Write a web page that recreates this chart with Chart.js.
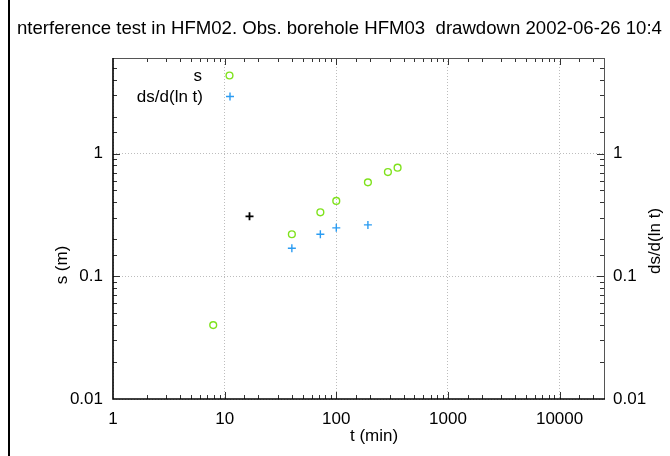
<!DOCTYPE html>
<html>
<head>
<meta charset="utf-8">
<script src="https://cdn.jsdelivr.net/npm/chart.js@4/dist/chart.umd.min.js"></script>
<style>
  html, body { margin: 0; padding: 0; background: #fff; }
  #wrap { position: relative; width: 670px; height: 456px; }
</style>
</head>
<body>
<div id="wrap"><canvas id="chart"></canvas></div>
<script>
// drawdown s (m) vs time t (min)
const sTime = [7.9, 40, 72, 100, 192, 290, 354];
const sValues = [0.040, 0.220, 0.332, 0.411, 0.582, 0.706, 0.766];

// derivative ds/d(ln t)
const derivTime = [40, 72, 100, 192];
const derivValues = [0.169, 0.220, 0.248, 0.262];

// stray derivative point drawn in black
const extraTime = [16.7];
const extraValues = [0.308];

const xDecades = [1, 10, 100, 1000, 10000];
const yDecades = [0.01, 0.1, 1];

const titleText = "nterference test in HFM02. Obs. borehole HFM03  drawdown 2002-06-26 10:4";
const FONT = '"Liberation Sans", Arial, sans-serif';
const GREEN = "#7fe21c";
const BLUE = "#2b9cf2";

const isDecade = (v) => Math.abs(Math.log10(v) - Math.round(Math.log10(v))) < 1e-9;
const toPoints = (xs, ys) => xs.map((x, i) => ({ x, y: ys[i] }));

const decorations = {
  id: "decorations",
  afterDraw(chart) {
    const { ctx, chartArea: a } = chart;
    const sx = chart.scales.x, sy = chart.scales.y;
    ctx.save();

    // inward tick marks
    ctx.strokeStyle = "#333";
    ctx.lineWidth = 1;
    ctx.beginPath();
    sx.ticks.forEach((t) => {
      if (t.value <= sx.min || t.value >= sx.max) return;
      const px = Math.round(sx.getPixelForValue(t.value)) + 0.5;
      const len = isDecade(t.value) ? 7 : 4;
      ctx.moveTo(px, a.bottom); ctx.lineTo(px, a.bottom - len);
      ctx.moveTo(px, a.top); ctx.lineTo(px, a.top + len);
    });
    sy.ticks.forEach((t) => {
      if (t.value <= sy.min || t.value >= sy.max) return;
      const py = Math.round(sy.getPixelForValue(t.value)) + 0.5;
      const len = isDecade(t.value) ? 7 : 4;
      ctx.moveTo(a.left, py); ctx.lineTo(a.left + len, py);
      ctx.moveTo(a.right, py); ctx.lineTo(a.right - len, py);
    });
    ctx.stroke();

    // frame
    ctx.strokeStyle = "#555";
    ctx.lineWidth = 1;
    ctx.beginPath();
    ctx.moveTo(a.left, a.top + 0.5); ctx.lineTo(a.right, a.top + 0.5);
    ctx.moveTo(a.right + 0.5, a.top); ctx.lineTo(a.right + 0.5, a.bottom);
    ctx.stroke();
    ctx.strokeStyle = "#000";
    ctx.lineWidth = 1.6;
    ctx.beginPath();
    ctx.moveTo(a.left, a.top); ctx.lineTo(a.left, a.bottom); ctx.lineTo(a.right + 1, a.bottom);
    ctx.stroke();

    // page edge line
    ctx.strokeStyle = "#000";
    ctx.lineWidth = 2;
    ctx.beginPath();
    ctx.moveTo(9, 0); ctx.lineTo(9, chart.height);
    ctx.stroke();

    // title
    ctx.fillStyle = "#000";
    ctx.font = "18.6px " + FONT;
    ctx.textBaseline = "middle";
    ctx.textAlign = "left";
    ctx.fillText(titleText, 17, 29);

    // axis titles
    ctx.font = "17px " + FONT;
    ctx.textAlign = "left";
    ctx.fillText("t (min)", 350, 436);
    ctx.textAlign = "center";
    ctx.save();
    ctx.translate(62, 265);
    ctx.rotate(-Math.PI / 2);
    ctx.fillText("s (m)", 0, 0);
    ctx.restore();
    ctx.save();
    ctx.translate(655, 241);
    ctx.rotate(-Math.PI / 2);
    ctx.fillText("ds/d(ln t)", 0, 0);
    ctx.restore();

    // legend
    ctx.textAlign = "right";
    ctx.fillText("s", 202, 76);
    ctx.fillText("ds/d(ln t)", 203, 97);
    ctx.strokeStyle = GREEN;
    ctx.lineWidth = 1.4;
    ctx.beginPath();
    ctx.arc(229.5, 75.5, 3.4, 0, Math.PI * 2);
    ctx.stroke();
    ctx.strokeStyle = BLUE;
    ctx.beginPath();
    ctx.moveTo(226, 96.5); ctx.lineTo(234, 96.5);
    ctx.moveTo(230, 92.5); ctx.lineTo(230, 100.5);
    ctx.stroke();

    ctx.restore();
  },
};

const tickFont = { family: FONT, size: 17 };
const gridOpts = {
  drawTicks: false,
  color: (c) => (c.tick && isDecade(c.tick.value) ? "#bdbdbd" : "rgba(0,0,0,0)"),
  lineWidth: 1,
};

new Chart(document.getElementById("chart"), {
  type: "scatter",
  data: {
    datasets: [
      {
        label: "s",
        data: toPoints(sTime, sValues),
        pointStyle: "circle",
        pointRadius: 3.4,
        borderColor: GREEN,
        backgroundColor: "rgba(0,0,0,0)",
        borderWidth: 1.4,
      },
      {
        label: "ds/d(ln t)",
        data: toPoints(derivTime, derivValues),
        pointStyle: "cross",
        pointRadius: 4,
        borderColor: BLUE,
        backgroundColor: BLUE,
        borderWidth: 1.4,
      },
      {
        label: "",
        data: toPoints(extraTime, extraValues),
        pointStyle: "cross",
        pointRadius: 4,
        borderColor: "#000",
        backgroundColor: "#000",
        borderWidth: 1.8,
      },
    ],
  },
  options: {
    responsive: true,
    maintainAspectRatio: false,
    animation: false,
    layout: { padding: { top: 58, left: 0, right: 0, bottom: 0 } },
    plugins: { legend: { display: false }, tooltip: { enabled: false } },
    scales: {
      x: {
        type: "logarithmic",
        min: 1,
        max: 25000,
        afterFit: (s) => { s.height = 57; },
        grid: gridOpts,
        border: { display: false, dash: [1, 2] },
        ticks: {
          autoSkip: false,
          maxRotation: 0,
          padding: 10,
          color: "#000",
          font: tickFont,
          callback: (v) => (xDecades.includes(v) ? String(v) : ""),
        },
      },
      y: {
        type: "logarithmic",
        position: "left",
        min: 0.01,
        max: 6,
        afterFit: (s) => { s.width = 113; },
        grid: gridOpts,
        border: { display: false, dash: [1, 2] },
        ticks: {
          autoSkip: false,
          padding: 10,
          color: "#000",
          font: tickFont,
          callback: (v) => (yDecades.some((d) => Math.abs(d - v) < 1e-9) ? String(v) : ""),
        },
      },
      y2: {
        type: "logarithmic",
        position: "right",
        display: true,
        min: 0.01,
        max: 6,
        afterFit: (s) => { s.width = 66; },
        grid: { drawOnChartArea: false, drawTicks: false },
        border: { display: false },
        ticks: {
          autoSkip: false,
          padding: 9,
          color: "#000",
          font: tickFont,
          callback: (v) => (yDecades.some((d) => Math.abs(d - v) < 1e-9) ? String(v) : ""),
        },
      },
    },
  },
  plugins: [decorations],
});
</script>
</body>
</html>
